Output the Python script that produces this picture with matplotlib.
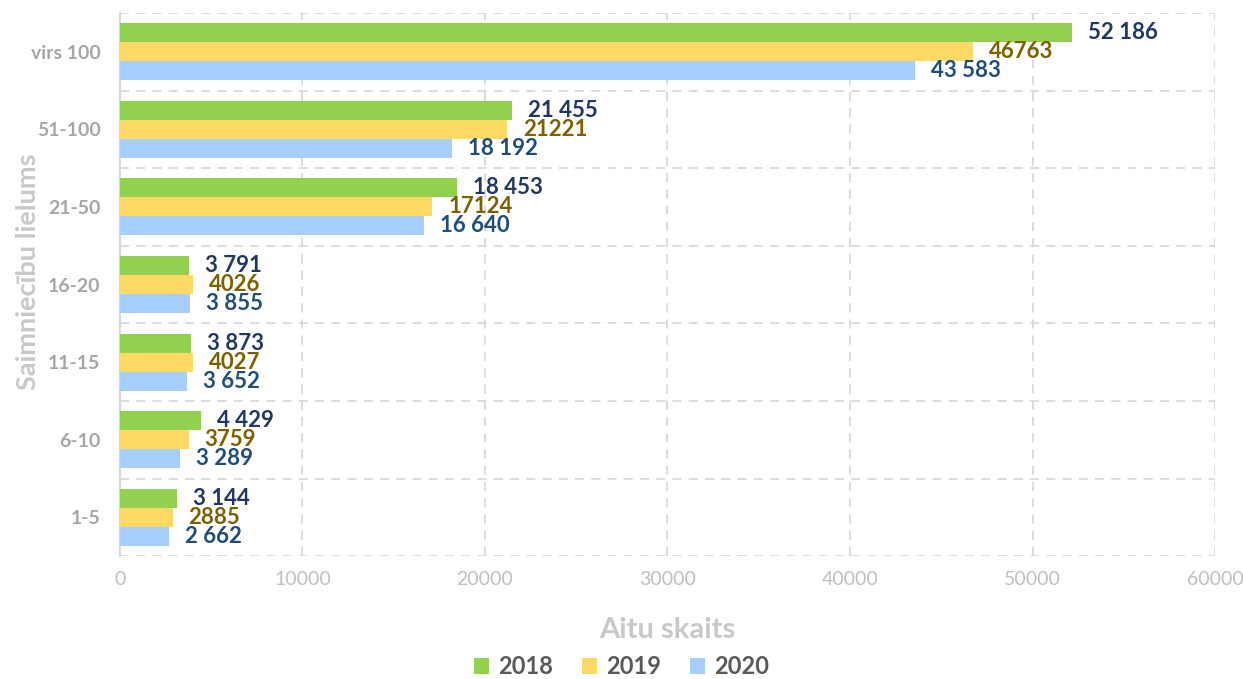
import numpy as np
import matplotlib.pyplot as plt

plt.rcParams['font.family'] = ['Lato', 'DejaVu Sans']

groups = ["1-5", "6-10", "11-15", "16-20", "21-50", "51-100", "virs 100"]
years = ["2018", "2019", "2020"]
v2018 = [3144, 4429, 3873, 3791, 18453, 21455, 52186]
v2019 = [2885, 3759, 4027, 4026, 17124, 21221, 46763]
v2020 = [2662, 3289, 3652, 3855, 16640, 18192, 43583]
lab2018 = ["3 144", "4 429", "3 873", "3 791", "18 453", "21 455", "52 186"]
lab2019 = ["2885", "3759", "4027", "4026", "17124", "21221", "46763"]
lab2020 = ["2 662", "3 289", "3 652", "3 855", "16 640", "18 192", "43 583"]
xticks = [0, 10000, 20000, 30000, 40000, 50000, 60000]

bar_colors = ["#92D050", "#FFD966", "#A6CEFF"]
text_colors = ["#1F3864", "#7F6000", "#1F4E79"]

fig = plt.figure(figsize=(12.43, 6.79), dpi=100)
ax = fig.add_axes([0.0965, 0.181, 0.881, 0.8])

y = np.arange(len(groups))
h = 0.245
series = [(v2018, lab2018), (v2019, lab2019), (v2020, lab2020)]
for k, (vals, labs) in enumerate(series):
    pos = y + h * (1 - k)
    bars = ax.barh(pos, vals, height=h, color=bar_colors[k], label=years[k], zorder=3)
    ax.bar_label(bars, labels=labs, padding=11.5, color=text_colors[k],
                 fontsize=16, fontweight='bold')

ax.set_xlim(0, 60000)
ax.set_ylim(-0.5, len(groups) - 0.5)
ax.set_xticks(xticks)
ax.set_xticklabels([str(t) for t in xticks], color="#BFBFBF", fontsize=14)
ax.set_yticks(y)
ax.set_yticklabels(groups, color="#A6A6A6", fontsize=14, fontweight='bold')
ax.set_yticks(np.arange(-0.5, len(groups)), minor=True)
ax.tick_params(axis='both', which='both', length=0)
ax.tick_params(axis='x', pad=11)
ax.tick_params(axis='y', pad=14)

ax.grid(axis='x', which='major', color="#D9D9D9", linestyle=(0, (5, 4)), linewidth=1.3, zorder=0)
ax.grid(axis='y', which='minor', color="#D9D9D9", linestyle=(0, (5, 4)), linewidth=1.3, zorder=0)
for s in ['top', 'right', 'bottom']:
    ax.spines[s].set_visible(False)
ax.spines['left'].set_color("#D9D9D9")
ax.spines['left'].set_linewidth(1.5)

fig.text(0.5 * (0.0965 + 0.9775), 1 - 630 / 679, "Aitu skaits", color="#C8C8C8",
         fontsize=21, fontweight='bold', ha='center', va='center')
fig.text(28 / 1243, 1 - 272 / 679, "Saimniecību lielums", color="#C8C8C8",
         fontsize=19.5, fontweight='bold', ha='center', va='center', rotation=90)

fig.legend(loc='center', bbox_to_anchor=(0.5, 1 - 667 / 679), ncol=3, frameon=False,
           prop={'size': 17, 'weight': 'bold'}, labelcolor="#595959",
           handlelength=0.65, handleheight=0.65, handletextpad=0.4, columnspacing=1.2)

fig.savefig("out.png", dpi=100)
